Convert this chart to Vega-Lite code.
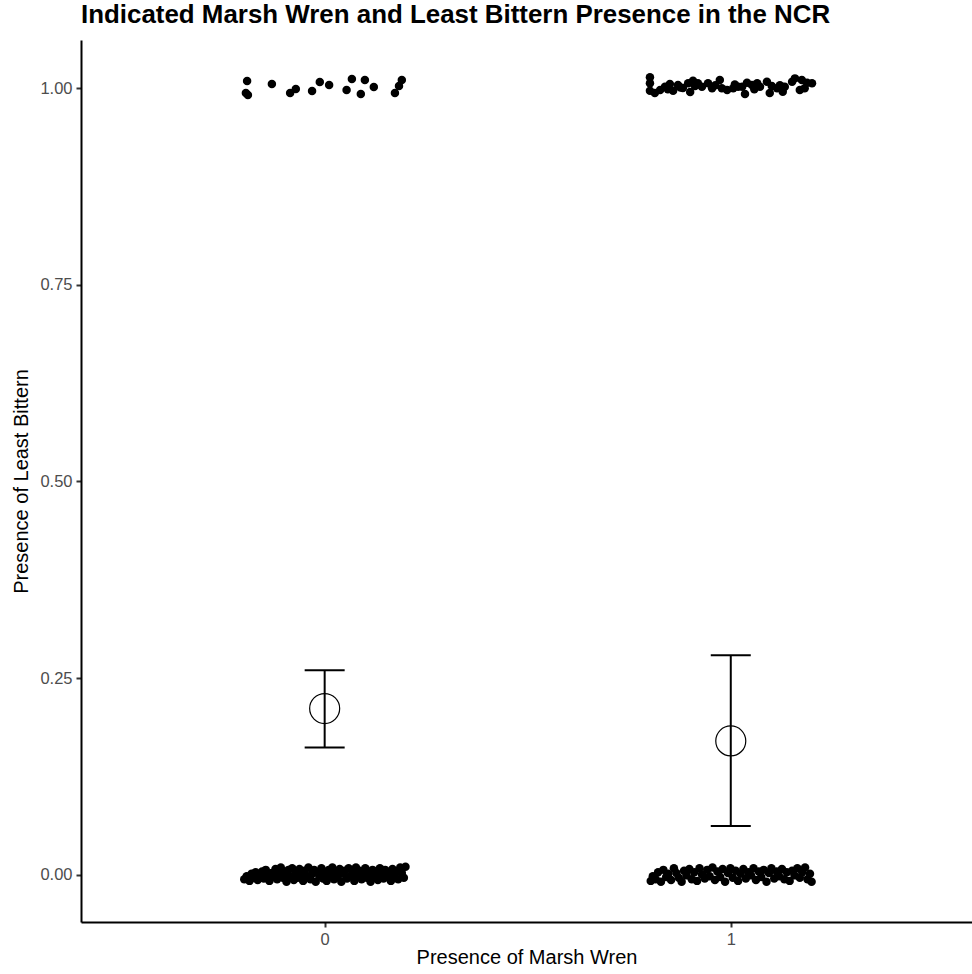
{
  "$schema": "https://vega.github.io/schema/vega-lite/v6.json",
  "autosize": {"type": "none"},
  "padding": {"left": 81, "top": 40, "right": 0, "bottom": 52},
  "width": 891,
  "height": 882,
  "background": "white",
  "config": {
    "view": {"stroke": null},
    "font": "Liberation Sans",
    "axis": {
      "grid": false,
      "domainColor": "black",
      "domainWidth": 2,
      "tickColor": "#333333",
      "tickWidth": 2,
      "tickSize": 5,
      "labelColor": "#4D4D4D",
      "labelFont": "Liberation Sans",
      "labelFontSize": 16.5,
      "titleFont": "Liberation Sans",
      "titleFontSize": 20,
      "titleFontWeight": "normal",
      "titleColor": "black"
    }
  },
  "title": {
    "text": "Indicated Marsh Wren and Least Bittern Presence in the NCR",
    "anchor": "start",
    "frame": "group",
    "font": "Liberation Sans",
    "fontSize": 25.9,
    "fontWeight": "bold",
    "color": "black",
    "offset": 11
  },
  "datasets": {
    "pts": [
      {"x": -0.191, "y": 1.0093}, {"x": -0.194, "y": 0.9940}, {"x": -0.189, "y": 0.9915}, {"x": -0.130, "y": 1.0055},
      {"x": -0.085, "y": 0.9940}, {"x": -0.071, "y": 0.9991}, {"x": -0.031, "y": 0.9966}, {"x": -0.012, "y": 1.0080},
      {"x": 0.011, "y": 1.0042}, {"x": 0.067, "y": 1.0118}, {"x": 0.054, "y": 0.9978}, {"x": 0.099, "y": 1.0106},
      {"x": 0.121, "y": 1.0017}, {"x": 0.089, "y": 0.9927}, {"x": 0.190, "y": 1.0106}, {"x": 0.183, "y": 1.0029},
      {"x": 0.173, "y": 0.9940},
      {"x": 0.801, "y": 1.0140}, {"x": 0.801, "y": 1.0064}, {"x": 0.801, "y": 0.9969}, {"x": 0.826, "y": 0.9978},
      {"x": 0.838, "y": 1.0020}, {"x": 0.850, "y": 1.0055}, {"x": 0.858, "y": 0.9969}, {"x": 0.870, "y": 1.0042},
      {"x": 0.882, "y": 1.0004}, {"x": 0.895, "y": 1.0064}, {"x": 0.907, "y": 1.0097}, {"x": 0.919, "y": 1.0064},
      {"x": 0.929, "y": 1.0020}, {"x": 0.944, "y": 1.0064}, {"x": 0.954, "y": 1.0000}, {"x": 0.973, "y": 1.0106},
      {"x": 0.978, "y": 1.0000}, {"x": 0.991, "y": 0.9978}, {"x": 1.006, "y": 1.0000}, {"x": 1.018, "y": 1.0020},
      {"x": 1.028, "y": 1.0020}, {"x": 1.040, "y": 1.0071}, {"x": 1.052, "y": 1.0042}, {"x": 1.065, "y": 1.0064},
      {"x": 1.072, "y": 1.0020}, {"x": 1.089, "y": 1.0084}, {"x": 1.101, "y": 1.0029}, {"x": 1.114, "y": 1.0000},
      {"x": 1.128, "y": 0.9957}, {"x": 1.133, "y": 1.0020}, {"x": 1.151, "y": 1.0084}, {"x": 1.158, "y": 1.0127},
      {"x": 1.175, "y": 1.0106}, {"x": 1.188, "y": 1.0071}, {"x": 1.200, "y": 1.0064}, {"x": 0.813, "y": 0.9940},
      {"x": 0.900, "y": 0.9953}, {"x": 1.035, "y": 0.9927}, {"x": 1.096, "y": 0.9940}, {"x": 1.170, "y": 0.9978},
      {"x": 0.845, "y": 0.9990}, {"x": 0.876, "y": 1.0010}, {"x": 0.912, "y": 1.0030}, {"x": 0.962, "y": 1.0040},
      {"x": 1.010, "y": 1.0050}, {"x": 1.058, "y": 0.9990}, {"x": 1.121, "y": 1.0040}, {"x": 1.182, "y": 1.0000},
      {"x": -0.198, "y": -0.006}, {"x": -0.192, "y": -0.002}, {"x": -0.185, "y": -0.008}, {"x": -0.180, "y": 0.001},
      {"x": -0.176, "y": -0.004}, {"x": -0.170, "y": 0.003}, {"x": -0.165, "y": -0.007}, {"x": -0.160, "y": -0.001},
      {"x": -0.154, "y": 0.004}, {"x": -0.150, "y": -0.005}, {"x": -0.145, "y": 0.006}, {"x": -0.140, "y": 0.000},
      {"x": -0.136, "y": -0.008}, {"x": -0.130, "y": 0.002}, {"x": -0.126, "y": -0.003}, {"x": -0.121, "y": 0.007},
      {"x": -0.117, "y": -0.006}, {"x": -0.112, "y": 0.001}, {"x": -0.108, "y": 0.009}, {"x": -0.103, "y": -0.004},
      {"x": -0.098, "y": 0.003}, {"x": -0.094, "y": -0.009}, {"x": -0.089, "y": 0.006}, {"x": -0.085, "y": -0.002},
      {"x": -0.080, "y": 0.008}, {"x": -0.076, "y": -0.007}, {"x": -0.071, "y": 0.002}, {"x": -0.066, "y": -0.004},
      {"x": -0.062, "y": 0.007}, {"x": -0.058, "y": 0.000}, {"x": -0.053, "y": -0.008}, {"x": -0.049, "y": 0.005},
      {"x": -0.044, "y": -0.003}, {"x": -0.040, "y": 0.009}, {"x": -0.035, "y": -0.006}, {"x": -0.031, "y": 0.001},
      {"x": -0.026, "y": 0.006}, {"x": -0.022, "y": -0.009}, {"x": -0.017, "y": 0.003}, {"x": -0.013, "y": -0.002},
      {"x": -0.008, "y": 0.008}, {"x": -0.004, "y": -0.005}, {"x": 0.001, "y": 0.002}, {"x": 0.005, "y": -0.008},
      {"x": 0.010, "y": 0.006}, {"x": 0.014, "y": -0.001}, {"x": 0.019, "y": 0.009}, {"x": 0.023, "y": -0.006},
      {"x": 0.028, "y": 0.003}, {"x": 0.032, "y": -0.003}, {"x": 0.037, "y": 0.007}, {"x": 0.041, "y": -0.009},
      {"x": 0.046, "y": 0.001}, {"x": 0.050, "y": 0.005}, {"x": 0.055, "y": -0.005}, {"x": 0.059, "y": 0.008},
      {"x": 0.064, "y": -0.002}, {"x": 0.068, "y": 0.004}, {"x": 0.073, "y": -0.008}, {"x": 0.077, "y": 0.009},
      {"x": 0.082, "y": -0.001}, {"x": 0.086, "y": 0.005}, {"x": 0.091, "y": -0.006}, {"x": 0.095, "y": 0.002},
      {"x": 0.100, "y": 0.008}, {"x": 0.104, "y": -0.004}, {"x": 0.109, "y": 0.003}, {"x": 0.113, "y": -0.009},
      {"x": 0.118, "y": 0.006}, {"x": 0.122, "y": -0.002}, {"x": 0.127, "y": 0.004}, {"x": 0.131, "y": -0.007},
      {"x": 0.136, "y": 0.008}, {"x": 0.140, "y": 0.000}, {"x": 0.145, "y": -0.005}, {"x": 0.149, "y": 0.006},
      {"x": 0.154, "y": -0.003}, {"x": 0.158, "y": 0.003}, {"x": 0.163, "y": -0.008}, {"x": 0.167, "y": 0.007},
      {"x": 0.172, "y": -0.002}, {"x": 0.176, "y": 0.004}, {"x": 0.181, "y": -0.006}, {"x": 0.186, "y": 0.009},
      {"x": 0.190, "y": 0.002}, {"x": 0.195, "y": -0.004}, {"x": 0.199, "y": 0.010},
      {"x": 0.803, "y": -0.008}, {"x": 0.808, "y": -0.002}, {"x": 0.815, "y": -0.006}, {"x": 0.821, "y": 0.003},
      {"x": 0.828, "y": -0.009}, {"x": 0.834, "y": 0.006}, {"x": 0.841, "y": -0.003}, {"x": 0.846, "y": 0.001},
      {"x": 0.853, "y": -0.007}, {"x": 0.860, "y": 0.008}, {"x": 0.866, "y": 0.002}, {"x": 0.872, "y": -0.004},
      {"x": 0.879, "y": -0.009}, {"x": 0.885, "y": 0.005}, {"x": 0.891, "y": -0.001}, {"x": 0.898, "y": 0.007},
      {"x": 0.904, "y": -0.006}, {"x": 0.910, "y": 0.003}, {"x": 0.917, "y": -0.008}, {"x": 0.923, "y": 0.008},
      {"x": 0.929, "y": 0.000}, {"x": 0.936, "y": -0.005}, {"x": 0.942, "y": 0.006}, {"x": 0.948, "y": -0.002},
      {"x": 0.955, "y": 0.009}, {"x": 0.961, "y": -0.007}, {"x": 0.967, "y": 0.004}, {"x": 0.974, "y": -0.003},
      {"x": 0.980, "y": 0.007}, {"x": 0.986, "y": -0.009}, {"x": 0.993, "y": 0.002}, {"x": 0.999, "y": 0.008},
      {"x": 1.005, "y": -0.004}, {"x": 1.012, "y": 0.005}, {"x": 1.018, "y": -0.008}, {"x": 1.024, "y": 0.001},
      {"x": 1.031, "y": 0.007}, {"x": 1.037, "y": -0.005}, {"x": 1.043, "y": 0.003}, {"x": 1.050, "y": -0.001},
      {"x": 1.056, "y": 0.008}, {"x": 1.062, "y": -0.007}, {"x": 1.069, "y": 0.004}, {"x": 1.075, "y": -0.003},
      {"x": 1.081, "y": 0.006}, {"x": 1.088, "y": -0.009}, {"x": 1.094, "y": 0.002}, {"x": 1.100, "y": 0.008},
      {"x": 1.107, "y": -0.005}, {"x": 1.113, "y": 0.004}, {"x": 1.119, "y": -0.002}, {"x": 1.126, "y": 0.007},
      {"x": 1.132, "y": -0.006}, {"x": 1.138, "y": 0.003}, {"x": 1.145, "y": -0.008}, {"x": 1.151, "y": 0.005},
      {"x": 1.157, "y": -0.001}, {"x": 1.164, "y": 0.008}, {"x": 1.170, "y": -0.004}, {"x": 1.176, "y": 0.003},
      {"x": 1.183, "y": 0.009}, {"x": 1.189, "y": -0.006}, {"x": 1.195, "y": 0.001}, {"x": 1.199, "y": -0.009}
    ],
    "summ": [
      {"x": 0, "mean": 0.2112, "lo": 0.1616, "hi": 0.260},
      {"x": 1, "mean": 0.170, "lo": 0.0618, "hi": 0.279}
    ]
  },
  "encoding": {
    "x": {
      "type": "quantitative",
      "scale": {"domain": [-0.6, 1.594], "nice": false, "zero": false},
      "axis": {"values": [0, 1], "format": "d", "title": "Presence of Marsh Wren", "labelPadding": 4, "titlePadding": 0}
    }
  },
  "layer": [
    {
      "data": {"name": "pts"},
      "mark": {"type": "point", "shape": "circle", "filled": true, "color": "black", "size": 72, "opacity": 1},
      "encoding": {
        "x": {"field": "x", "type": "quantitative"},
        "y": {
          "field": "y", "type": "quantitative",
          "scale": {"domain": [-0.0603, 1.0615], "nice": false, "zero": false},
          "axis": {"values": [0, 0.25, 0.5, 0.75, 1], "format": ".2f", "title": "Presence of Least Bittern", "labelPadding": 4, "titlePadding": 8}
        }
      }
    },
    {
      "data": {"name": "summ"},
      "mark": {"type": "rule", "color": "black", "strokeWidth": 2},
      "encoding": {
        "x": {"field": "x", "type": "quantitative"},
        "y": {"field": "lo", "type": "quantitative"},
        "y2": {"field": "hi"}
      }
    },
    {
      "data": {"name": "summ"},
      "mark": {"type": "tick", "orient": "horizontal", "color": "black", "size": 40, "thickness": 2, "opacity": 1},
      "encoding": {
        "x": {"field": "x", "type": "quantitative"},
        "y": {"field": "lo", "type": "quantitative"}
      }
    },
    {
      "data": {"name": "summ"},
      "mark": {"type": "tick", "orient": "horizontal", "color": "black", "size": 40, "thickness": 2, "opacity": 1},
      "encoding": {
        "x": {"field": "x", "type": "quantitative"},
        "y": {"field": "hi", "type": "quantitative"}
      }
    },
    {
      "data": {"name": "summ"},
      "mark": {"type": "point", "shape": "circle", "filled": false, "stroke": "black", "strokeWidth": 1.2, "size": 900, "opacity": 1},
      "encoding": {
        "x": {"field": "x", "type": "quantitative"},
        "y": {"field": "mean", "type": "quantitative"}
      }
    }
  ]
}
